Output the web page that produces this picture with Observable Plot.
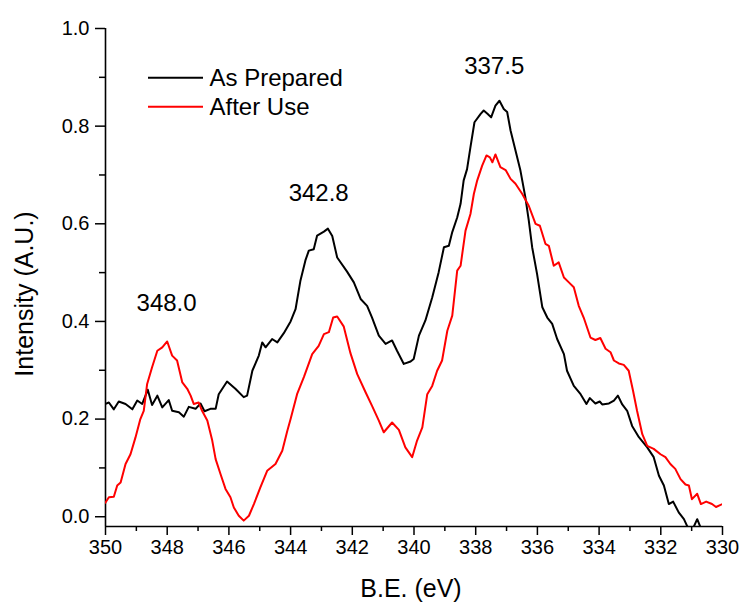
<!DOCTYPE html>
<html>
<head>
<meta charset="utf-8">
<script src="https://cdn.jsdelivr.net/npm/d3@7"></script>
<script src="https://cdn.jsdelivr.net/npm/@observablehq/plot@0.6"></script>
<style>
  html, body { margin: 0; padding: 0; background: #fff; }
  #chart { width: 740px; height: 606px; }
</style>
</head>
<body>
<div id="chart"></div>
<script>
// ---- Data ----
const seriesNames = ["As Prepared", "After Use"];
const seriesColors = ["#000000", "#ff0000"];

const asPreparedBE = [350.00,349.89,349.73,349.57,349.35,349.13,348.97,348.81,348.63,348.49,348.32,348.16,347.95,347.84,347.62,347.46,347.30,347.08,346.92,346.79,346.60,346.43,346.33,346.06,345.79,345.52,345.41,345.24,345.03,344.92,344.81,344.60,344.43,344.22,344.00,343.84,343.68,343.52,343.41,343.25,343.14,343.03,342.92,342.79,342.65,342.49,342.17,341.95,341.73,341.52,341.36,341.14,340.92,340.71,340.55,340.33,340.11,340.01,339.84,339.63,339.41,339.20,339.03,338.87,338.76,338.60,338.49,338.39,338.28,338.17,338.04,337.84,337.74,337.61,337.50,337.36,337.23,337.09,336.98,336.87,336.71,336.55,336.39,336.28,336.17,336.01,335.84,335.68,335.52,335.36,335.14,335.04,334.82,334.60,334.41,334.30,334.12,333.98,333.90,333.68,333.52,333.39,333.25,333.09,332.93,332.71,332.44,332.23,332.06,331.90,331.74,331.60,331.42,331.25,331.14,331.00,330.82,330.66];
const asPreparedI  = [0.231,0.234,0.220,0.236,0.231,0.220,0.238,0.231,0.260,0.229,0.248,0.224,0.239,0.217,0.214,0.205,0.225,0.221,0.232,0.216,0.221,0.221,0.251,0.277,0.262,0.245,0.248,0.299,0.330,0.357,0.347,0.364,0.357,0.376,0.400,0.425,0.484,0.525,0.545,0.548,0.576,0.580,0.584,0.590,0.575,0.531,0.502,0.480,0.446,0.432,0.408,0.371,0.354,0.361,0.340,0.313,0.318,0.323,0.371,0.402,0.449,0.501,0.552,0.555,0.583,0.613,0.641,0.689,0.712,0.757,0.808,0.825,0.832,0.825,0.818,0.842,0.852,0.835,0.829,0.791,0.750,0.709,0.654,0.607,0.552,0.497,0.429,0.408,0.395,0.364,0.333,0.299,0.268,0.251,0.231,0.243,0.232,0.236,0.230,0.232,0.238,0.248,0.230,0.217,0.186,0.163,0.142,0.122,0.084,0.064,0.026,0.031,0.009,-0.005,-0.020,-0.030,-0.005,-0.030];

const afterUseBE = [350.00,349.89,349.73,349.62,349.51,349.35,349.19,349.03,348.87,348.76,348.65,348.49,348.32,348.16,348.00,347.84,347.68,347.51,347.35,347.24,347.14,346.98,346.87,346.70,346.54,346.43,346.27,346.11,345.95,345.84,345.68,345.52,345.35,345.19,344.98,344.76,344.49,344.27,344.11,344.00,343.79,343.57,343.30,343.09,342.92,342.76,342.62,342.49,342.28,342.06,341.84,341.57,341.36,341.14,340.98,340.71,340.49,340.28,340.06,339.90,339.73,339.57,339.41,339.25,339.09,338.92,338.76,338.60,338.49,338.33,338.17,338.06,337.95,337.79,337.65,337.54,337.46,337.36,337.20,337.03,336.87,336.71,336.49,336.28,336.06,335.92,335.74,335.63,335.47,335.31,335.14,334.98,334.82,334.66,334.50,334.28,334.12,333.96,333.79,333.63,333.52,333.36,333.20,333.04,332.90,332.77,332.60,332.44,332.23,332.01,331.85,331.69,331.53,331.36,331.20,331.09,330.99,330.82,330.70,330.53,330.34,330.21,330.00];
const afterUseI  = [0.029,0.040,0.041,0.064,0.070,0.108,0.128,0.162,0.200,0.217,0.272,0.306,0.340,0.347,0.359,0.330,0.320,0.275,0.262,0.248,0.231,0.234,0.217,0.197,0.156,0.118,0.087,0.057,0.040,0.019,0.002,-0.008,0.002,0.026,0.060,0.094,0.108,0.135,0.175,0.200,0.251,0.286,0.333,0.350,0.374,0.378,0.408,0.410,0.390,0.335,0.292,0.255,0.227,0.197,0.173,0.193,0.178,0.142,0.122,0.156,0.183,0.251,0.268,0.299,0.320,0.381,0.412,0.504,0.514,0.586,0.620,0.661,0.689,0.719,0.740,0.736,0.726,0.742,0.716,0.710,0.692,0.682,0.661,0.637,0.600,0.596,0.559,0.555,0.514,0.521,0.490,0.480,0.470,0.432,0.408,0.367,0.362,0.366,0.344,0.337,0.320,0.314,0.311,0.299,0.258,0.217,0.169,0.145,0.139,0.128,0.122,0.108,0.098,0.077,0.066,0.064,0.036,0.047,0.026,0.031,0.026,0.020,0.026];

const peakLabels = ["348.0", "342.8", "337.5"];
const peakBE     = [348.02, 343.09, 337.40];
const peakI      = [0.4375, 0.663, 0.9225];

const xDomain = [350, 330];
const yDomain = [-0.02, 1.0];
const xMajorTicks = [350, 348, 346, 344, 342, 340, 338, 336, 334, 332, 330];
const xMinorTicks = [349, 347, 345, 343, 341, 339, 337, 335, 333, 331];
const yMajorTicks = [0.0, 0.2, 0.4, 0.6, 0.8, 1.0];
const yMinorTicks = [0.1, 0.3, 0.5, 0.7, 0.9];

const xTitle = "B.E. (eV)";
const yTitle = "Intensity (A.U.)";

// ---- Build table ----
const rows = [
  ...asPreparedBE.map((be, i) => ({be, v: asPreparedI[i], s: seriesNames[0]})),
  ...afterUseBE.map((be, i) => ({be, v: afterUseI[i], s: seriesNames[1]}))
];
const peaks = peakLabels.map((t, i) => ({t, be: peakBE[i], v: peakI[i]}));

const FONT = "'Liberation Sans', Arial, Helvetica, sans-serif";

const chart = Plot.plot({
  width: 740,
  height: 606,
  marginLeft: 105,
  marginRight: 18,
  marginTop: 28,
  marginBottom: 80,
  style: {fontFamily: FONT, fontSize: "20px", color: "#000", background: "#fff"},
  x: {domain: xDomain, label: null},
  y: {domain: yDomain, label: null},
  color: {domain: seriesNames, range: seriesColors},
  marks: [
    Plot.axisX({ticks: xMajorTicks, tickSize: 9, tickPadding: 4, tickFormat: d3.format("d"), fontSize: 20, strokeWidth: 1.5, label: null}),
    Plot.axisX({ticks: xMinorTicks, tickSize: 5, tickFormat: () => "", strokeWidth: 1.5, label: null}),
    Plot.axisY({ticks: yMajorTicks, tickSize: 10, tickPadding: 6, tickFormat: d3.format(".1f"), fontSize: 20, strokeWidth: 1.5, label: null}),
    Plot.axisY({ticks: yMinorTicks, tickSize: 6, tickFormat: () => "", strokeWidth: 1.5, label: null}),
    Plot.ruleX([xDomain[0]], {stroke: "#000", strokeWidth: 1.6}),
    Plot.ruleY([yDomain[0]], {stroke: "#000", strokeWidth: 1.6}),
    Plot.line(rows, {x: "be", y: "v", z: "s", stroke: "s", strokeWidth: 2, curve: "linear", clip: true}),
    Plot.text(peaks, {x: "be", y: "v", text: "t", fontSize: 24, textAnchor: "middle", lineAnchor: "middle", fill: "#000"})
  ]
});

const svg = d3.select(chart);

// Axis titles
svg.append("text")
  .attr("x", 411).attr("y", 597)
  .attr("text-anchor", "middle")
  .attr("font-family", FONT).attr("font-size", 25).attr("fill", "#000")
  .text(xTitle);
svg.append("text")
  .attr("transform", "translate(33,294) rotate(-90)")
  .attr("text-anchor", "middle")
  .attr("font-family", FONT).attr("font-size", 25).attr("fill", "#000")
  .text(yTitle);

// Legend drawn inside the plot area
const legend = svg.append("g").attr("font-family", FONT).attr("font-size", 24).attr("text-anchor", "start");
const legendY = [77.7, 106.7];
seriesNames.forEach((name, i) => {
  legend.append("line")
    .attr("x1", 148).attr("x2", 203)
    .attr("y1", legendY[i]).attr("y2", legendY[i])
    .attr("stroke", seriesColors[i]).attr("stroke-width", 2);
  legend.append("text")
    .attr("x", 209.5).attr("y", legendY[i] + 8.5)
    .attr("fill", "#000")
    .text(name);
});

document.getElementById("chart").appendChild(chart);
</script>
</body>
</html>
